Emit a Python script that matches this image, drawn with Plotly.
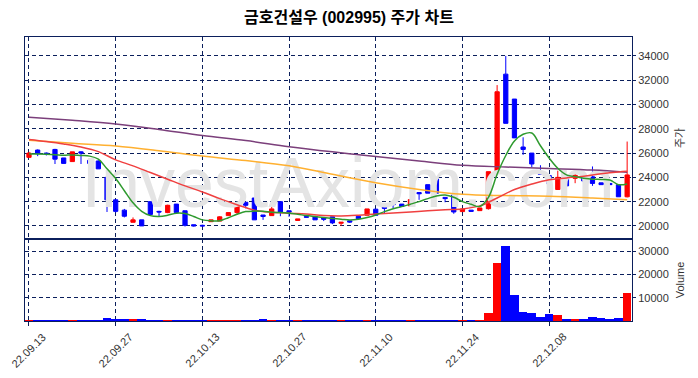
import plotly.graph_objects as go
from plotly.subplots import make_subplots

dates = ["22.09.13", "22.09.14", "22.09.15", "22.09.16", "22.09.19", "22.09.20", "22.09.21",
         "22.09.22", "22.09.23", "22.09.26", "22.09.27", "22.09.28", "22.09.29", "22.09.30",
         "22.10.04", "22.10.05", "22.10.06", "22.10.07", "22.10.11", "22.10.12", "22.10.13",
         "22.10.14", "22.10.17", "22.10.18", "22.10.19", "22.10.20", "22.10.21", "22.10.24",
         "22.10.25", "22.10.26", "22.10.27", "22.10.28", "22.10.31", "22.11.01", "22.11.02",
         "22.11.03", "22.11.04", "22.11.07", "22.11.08", "22.11.09", "22.11.10", "22.11.11",
         "22.11.14", "22.11.15", "22.11.16", "22.11.17", "22.11.18", "22.11.21", "22.11.22",
         "22.11.23", "22.11.24", "22.11.25", "22.11.28", "22.11.29", "22.11.30", "22.12.01",
         "22.12.02", "22.12.05", "22.12.06", "22.12.07", "22.12.08", "22.12.09", "22.12.12",
         "22.12.13", "22.12.14", "22.12.15", "22.12.16", "22.12.19", "22.12.20", "22.12.21"]

opens = [25650, 26250, 26000, 26300, 25600, 25300, 26100, 25400, 25350, 24000,
         22150, 21300, 20300, 20500, 22000, 21200, 21100, 21800, 21250, 20100,
         20050, 20350, 20400, 20850, 21100, 21950, 22300, 20900, 20850, 22000,
         21250, 20450, 20770, 20770, 20650, 20750, 20220, 20420, 20800, 20880,
         21380, 21550, 21850, 21800, 21650, 22750, 23400, 23870, 22350, 22550,
         21180, 21300, 21260, 21420, 24400, 32500, 30450, 26500, 26000, 24350,
         24150, 23000, 24150, 23920, 24150, 24050, 23550, 23500, 23400, 22400]
highs = [26100, 26300, 26050, 26350, 25600, 26100, 26150, 25400, 25400, 24000,
         22150, 21400, 20700, 20500, 22000, 21250, 21750, 21800, 21250, 20100,
         20100, 20500, 20800, 21100, 21750, 21950, 22300, 20900, 21900, 22000,
         21250, 20580, 20770, 20770, 20650, 20750, 20300, 20420, 20800, 21400,
         21400, 21600, 21850, 21800, 22250, 22750, 23400, 23900, 22350, 22550,
         21400, 21300, 21480, 24470, 31600, 34000, 30450, 27300, 26000, 25000,
         24150, 24550, 24200, 24350, 24150, 24900, 23550, 23500, 23400, 26950]
lows = [25600, 25750, 25800, 25100, 25150, 25300, 25100, 25000, 24700, 21150,
        21100, 20700, 20300, 20000, 20950, 20800, 21050, 21050, 19950, 19950,
        19950, 20350, 20400, 20850, 20900, 21450, 20500, 20500, 20850, 20800,
        20750, 20450, 20720, 20500, 20400, 20150, 20000, 20250, 20600, 20880,
        20880, 21050, 21450, 21600, 21600, 22150, 22700, 22700, 21950, 21000,
        21180, 21200, 21260, 21350, 24350, 28450, 27250, 25850, 24850, 24250,
        23300, 23000, 23200, 23520, 23650, 23300, 23400, 23400, 22400, 22350]
closes = [26000, 25950, 25950, 25500, 25150, 26100, 26000, 25150, 24700, 22150,
          21200, 20800, 20500, 20000, 20950, 21150, 21700, 21100, 20050, 20000,
          20000, 20500, 20750, 21100, 21730, 21700, 20500, 20780, 21400, 21150,
          21150, 20580, 20720, 20500, 20550, 20250, 20300, 20320, 20600, 21400,
          20880, 21450, 21750, 21600, 22170, 22650, 22700, 22700, 22250, 21150,
          21400, 21200, 21480, 24470, 31050, 28450, 27250, 26300, 25100, 24250,
          23450, 24000, 23300, 24170, 23700, 23500, 23400, 23400, 22400, 24200]
volumes = [400, 300, 300, 400, 300, 350, 300, 300, 350, 1500,
           800, 750, 700, 750, 400, 300, 300, 350, 400, 300,
           250, 300, 300, 250, 300, 350, 400, 700, 350, 300,
           300, 300, 100, 300, 300, 350, 300, 250, 300, 350,
           300, 300, 250, 300, 300, 350, 300, 300, 300, 400,
           300, 300, 500, 3400, 25000, 32200, 11200, 3900, 3400, 1600,
           2900, 2500, 700, 900, 800, 1600, 1300, 800, 1300, 12200]

ma5 = [25930, 25920, 25900, 25870, 25820, 25850, 25800, 25750, 25500, 24700,
       23900, 22900, 21900, 21200, 20850, 20780, 20880, 21050, 21020, 20780,
       20500, 20420, 20430, 20680, 20960, 21180, 21220, 21200, 21120, 21100,
       21050, 20960, 20850, 20770, 20690, 20620, 20560, 20490, 20550, 20690,
       20900, 21180, 21420, 21590, 21790, 22000, 22250, 22470, 22550, 22360,
       22000, 21780, 21600, 22350, 24250, 25800, 27000, 27550, 27650, 26600,
       25600, 24750, 24200, 24060, 23930, 23850, 23830, 23790, 23400, 23460]

ma20_idx = [0, 2, 4, 6, 8, 10, 12, 14, 16, 18, 20, 22, 24, 26, 28, 30, 32, 34,
            36, 38, 40, 42, 44, 46, 48, 50, 52, 54, 56, 58, 60, 62, 64, 66, 68, 69]
ma20 = [27120, 26950, 26750, 26500, 26120, 25440, 24950, 24400, 23850, 23300,
        22800, 22250, 21750, 21300, 21130, 21050, 20980, 20850, 20820, 20880,
        20980, 21060, 21150, 21250, 21330, 21400, 21650, 22300, 23000, 23450,
        23800, 23950, 24100, 24300, 24450, 24500]

ma60_idx = [0, 5, 10, 15, 20, 25, 30, 35, 40, 45, 50, 55, 60, 65, 69]
ma60 = [27050, 26810, 26590, 26200, 25750, 25380, 24950, 24250, 23550, 23000,
        22600, 22500, 22450, 22300, 22150]

ma120_idx = [0, 5, 10, 15, 20, 25, 30, 35, 40, 45, 50, 55, 60, 65, 69]
ma120 = [28950, 28700, 28400, 27950, 27450, 27030, 26530, 26100, 25710, 25350,
         25000, 24850, 24730, 24600, 24420]

tick_idx = [0, 10, 20, 30, 40, 50, 60]
price_ticks = [20000, 22000, 24000, 26000, 28000, 30000, 32000, 34000]
vol_ticks = [10000, 20000, 30000]

UP = "#ff0000"
DOWN = "#0000ff"
NAVY = "#0b1f5c"
x = list(range(len(dates)))

fig = make_subplots(rows=2, cols=1, shared_xaxes=True, vertical_spacing=0,
                    row_heights=[0.711, 0.289])

fig.add_trace(go.Scatter(x=[36.8], y=[22960], mode="text", text=["InvestAxiom.com"],
                         textfont=dict(family="Liberation Sans, Arial", size=70, color="#e4e4e4"),
                         hoverinfo="skip", showlegend=False), row=1, col=1)

fig.add_trace(go.Scatter(x=ma120_idx, y=ma120, mode="lines", line=dict(color="#7b3f7b", width=1.5, shape="spline"),
                         showlegend=False), row=1, col=1)
fig.add_trace(go.Scatter(x=ma60_idx, y=ma60, mode="lines", line=dict(color="#ffb030", width=1.5, shape="spline"),
                         showlegend=False), row=1, col=1)
fig.add_trace(go.Scatter(x=ma20_idx, y=ma20, mode="lines", line=dict(color="#f04040", width=1.5, shape="spline"),
                         showlegend=False), row=1, col=1)
fig.add_trace(go.Scatter(x=x, y=ma5, mode="lines", line=dict(color="#2e9a2e", width=1.5, shape="spline"),
                         showlegend=False), row=1, col=1)

fig.add_trace(go.Candlestick(x=x, open=opens, high=highs, low=lows, close=closes,
                             increasing=dict(line=dict(color=UP, width=1), fillcolor=UP),
                             decreasing=dict(line=dict(color=DOWN, width=1), fillcolor=DOWN),
                             whiskerwidth=0, showlegend=False), row=1, col=1)

vol_colors = [UP if c >= o else DOWN for o, c in zip(opens, closes)]
fig.add_trace(go.Bar(x=x, y=volumes, marker=dict(color=vol_colors, line=dict(width=0)),
                     showlegend=False), row=2, col=1)

axis_common = dict(showline=True, linecolor=NAVY, linewidth=1, mirror=True,
                   showgrid=True, gridcolor=NAVY, gridwidth=1, griddash="4px,3px",
                   zeroline=False, automargin=False)

fig.update_xaxes(**axis_common, range=[-0.46, 69.56], tickvals=tick_idx,
                 ticktext=[dates[i] for i in tick_idx], rangeslider_visible=False,
                 showticklabels=False)
fig.update_xaxes(ticks="", row=1, col=1)
fig.update_xaxes(ticks="outside", ticklen=4, tickcolor=NAVY, row=2, col=1)

for i in tick_idx:
    fig.add_annotation(x=i, xref="x2", y=0, yref="paper", text=dates[i], showarrow=False,
                       textangle=-45, xanchor="center", yanchor="middle", yshift=-29,
                       font=dict(family="Liberation Sans, Arial", size=11, color="#333333"))

fig.update_yaxes(**axis_common, side="right", ticks="outside", ticklen=3, tickcolor=NAVY,
                 tickformat="d",
                 tickfont=dict(family="Liberation Sans, Arial", size=11, color="#333333"))
fig.update_yaxes(range=[18930, 35560], tickvals=price_ticks,
                 title=dict(text="주가", font=dict(family="Noto Sans CJK KR", size=11, color="#333333"), standoff=8),
                 row=1, col=1)
fig.update_yaxes(range=[0, 35350], tickvals=vol_ticks,
                 title=dict(text="Volume", font=dict(family="Liberation Sans, Arial", size=11, color="#333333"), standoff=8),
                 row=2, col=1)

fig.update_layout(
    width=698, height=378,
    margin=dict(l=25, r=66, t=37, b=57),
    paper_bgcolor="white", plot_bgcolor="white",
    bargap=0,
    title=dict(text="<b>금호건설우 (002995) 주가 차트</b>", x=0.5, xanchor="center", y=0.953, yanchor="middle",
               font=dict(family="Liberation Sans, Noto Sans CJK KR", size=16, color="#000000")),
    showlegend=False,
)

fig.write_html("out.html", config={"displayModeBar": False},
               post_script="document.body.style.margin='0px';")
